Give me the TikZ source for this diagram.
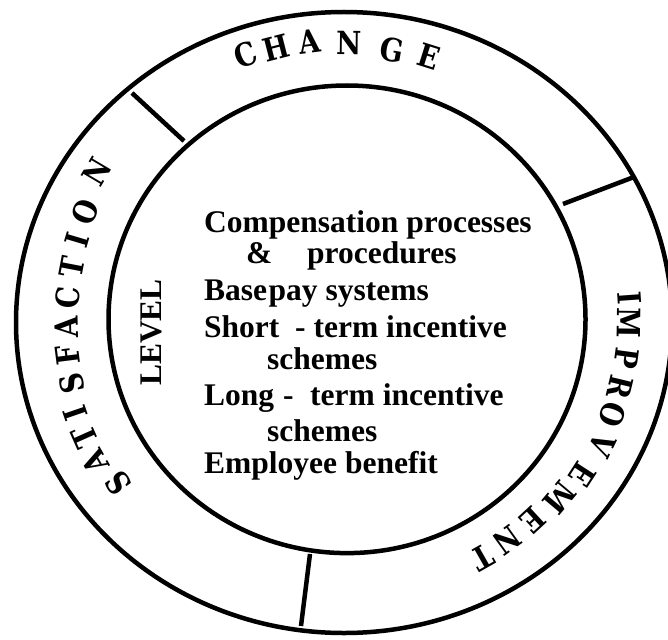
\documentclass[tikz,border=0pt]{standalone}
\usepackage{fontspec}
\setmainfont{Liberation Serif}
\newfontfamily\ringfont{DejaVu Serif}
\tikzset{
  ring/.style={line width=4.5pt},
  divider/.style={line width=4.5pt},
  ringletter/.style={font=\ringfont\bfseries\fontsize{32}{32}\selectfont, inner sep=0pt},
  body/.style={font=\bfseries\fontsize{31.5}{31.5}\selectfont, inner sep=0pt, anchor=base west},
}
\begin{document}
\begin{tikzpicture}[x=1pt,y=-1pt]
\useasboundingbox (0,0) rectangle (668,639);
% circles
\draw[ring] (344,322.5) ellipse [x radius=328, y radius=310.5];
\draw[ring] (347,319.3) ellipse [x radius=238.5, y radius=233.8];
% dividers
\coordinate (d1a) at (184,141); \coordinate (d1b) at (132,93);
\coordinate (d2a) at (563,204); \coordinate (d2b) at (634,177);
\coordinate (d3a) at (310,554); \coordinate (d3b) at (301,626);
\draw[divider] (d1a) -- (d1b);
\draw[divider] (d2a) -- (d2b);
\draw[divider] (d3a) -- (d3b);
% ring words
\foreach \l/\x/\y/\r [count=\i] in {C/246/55/20.7, H/276/48/14.4, A/310/42/7.4, N/349/43/-0.6, G/392/50/-9.7, E/429/57/-17.5}
  \node[ringletter, rotate=\r, xscale=0.86] (ch\i) at (\x,\y) {\l};
\foreach \l/\x/\y/\r [count=\i] in {S/118/483/125.4, A/95/462/119.4, T/85/437/114, I/75/413/108.9, S/72/383/102.9, F/68/355/97.2, A/67/327/91.4, C/68/298/85.5, T/72/267/79.1, I/77/240/73.5, O/85/212/67.6, N/97/172/59.4}
  \node[ringletter, rotate=\r, xscale=0.86] (sa\i) at (\x,\y) {\l};
\foreach \l/\x/\y/\r [count=\i] in {I/630/298/-85.9, M/629/323/-90.8, P/627/358/-97.8, R/620/387/-103.5, O/612/415/-109.5, V/602/445/-116, E/583/475/-123, M/560/498/-130, E/533/520/-137.3, N/507/540/-144.2, T/482/558/-150.4}
  \node[ringletter, rotate=\r, xscale=0.86] (im\i) at (\x,\y) {\l};
% LEVEL
\node[font=\bfseries\fontsize{31.5}{31.5}\selectfont, inner sep=0pt, rotate=90] (level) at (151.5,332.5) {LEVEL};
% body text
\node[body] (t1) at (204,232) {Compensation processes};
\node[body] (t2a) at (246,263) {\&};
\node[body] (t2b) at (307,263) {procedures};
\node[body] (t3) at (204,300) {Base\hspace{1.5pt}pay systems};
\node[body] (t4a) at (204,337) {Short};
\node[body] (t4b) at (295,337) {- term incentive};
\node[body] (t5) at (267,369) {schemes};
\node[body] (t6a) at (204,405) {Long};
\node[body] (t6b) at (283,405) {-};
\node[body] (t6c) at (310,405) {term incentive};
\node[body] (t7) at (267,441) {schemes};
\node[body] (t8) at (204,473) {Employee benefit};
\end{tikzpicture}
\end{document}
